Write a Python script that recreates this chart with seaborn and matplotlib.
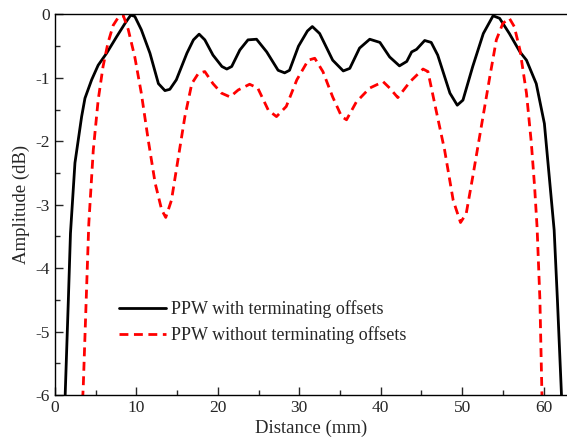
import numpy as np
import pandas as pd
import matplotlib
matplotlib.use("Agg")
import matplotlib.pyplot as plt
import seaborn as sns
from matplotlib.ticker import MultipleLocator

black_x = [0.9, 1.25, 1.64, 1.9, 2.45, 3.27, 3.68, 4.5, 5.3, 6.34, 7.57, 8.6, 9.3, 9.8, 10.6, 11.66,
           12.7, 13.5, 14.1, 14.9, 16.2, 17.0, 17.7, 18.4, 19.4, 20.5, 21.1, 21.7, 22.7, 23.7, 24.75,
           26.0, 27.4, 28.2, 28.8, 29.9, 31.0, 31.6, 32.5, 34.1, 35.4, 36.2, 37.4, 38.65, 39.9, 41.1,
           42.3, 43.2, 43.8, 44.4, 45.4, 46.2, 47.0, 48.5, 49.4, 50.1, 51.3, 52.6, 53.8, 54.6, 55.8,
           57.1, 57.9, 59.1, 60.1, 60.7, 61.3, 61.7, 62.2, 62.3]
black_y = [-6.3, -6.0, -4.5, -3.45, -2.34, -1.61, -1.32, -1.03, -0.80, -0.61, -0.35, -0.14, -0.01, -0.03,
           -0.24, -0.61, -1.09, -1.20, -1.18, -1.03, -0.61, -0.40, -0.31, -0.40, -0.64, -0.82, -0.86,
           -0.82, -0.56, -0.40, -0.39, -0.59, -0.88, -0.92, -0.88, -0.50, -0.26, -0.19, -0.30, -0.72,
           -0.89, -0.85, -0.53, -0.39, -0.44, -0.67, -0.81, -0.74, -0.59, -0.55, -0.41, -0.44, -0.64,
           -1.24, -1.43, -1.35, -0.82, -0.30, -0.02, -0.06, -0.30, -0.59, -0.72, -1.09, -1.72, -2.56,
           -3.40, -4.5, -6.0, -6.3]

red_x = [3.3, 3.47, 3.9, 4.15, 4.7, 5.3, 5.9, 6.5, 7.15, 7.8, 8.4, 9.0, 9.8, 10.6, 11.45, 12.3, 13.1,
         13.6, 14.3, 15.1, 15.95, 16.8, 17.6, 18.4, 19.4, 20.45, 21.5, 22.5, 23.9, 24.9, 26.2, 27.2,
         28.4, 29.7, 31.1, 31.9, 32.9, 34.1, 35.2, 35.8, 37.0, 38.65, 40.3, 41.1, 42.1, 43.6, 45.2,
         45.8, 46.8, 47.85, 48.9, 49.8, 50.5, 51.3, 52.35, 53.4, 54.2, 55.0, 55.8, 56.4, 57.1, 57.9,
         58.5, 58.9, 59.2, 59.55, 59.8, 59.9]
red_y = [-6.3, -5.87, -4.24, -3.3, -2.14, -1.35, -0.82, -0.45, -0.17, -0.04, -0.02, -0.24, -0.67,
         -1.24, -1.98, -2.66, -3.08, -3.20, -2.93, -2.29, -1.61, -1.09, -0.93, -0.90, -1.09, -1.24,
         -1.30, -1.19, -1.10, -1.16, -1.51, -1.61, -1.45, -1.03, -0.72, -0.69, -0.90, -1.30, -1.61,
         -1.66, -1.38, -1.16, -1.06, -1.16, -1.31, -1.06, -0.86, -0.90, -1.51, -2.14, -2.93, -3.28,
         -3.14, -2.56, -1.77, -0.98, -0.40, -0.14, -0.06, -0.19, -0.56, -1.24, -2.03, -2.72, -3.35,
         -4.5, -6.0, -6.3]

label_black = "PPW with terminating offsets"
label_red = "PPW without terminating offsets"

sns.set_style("ticks")
plt.rcParams["font.family"] = ["Liberation Serif", "DejaVu Serif"]

fig = plt.figure(figsize=(5.67, 4.44), dpi=100)
ax = fig.add_axes([55 / 567, 1 - 395 / 444, 513 / 567, (395 - 14.5) / 444])

df_b = pd.DataFrame({"x": black_x, "y": black_y})
df_r = pd.DataFrame({"x": red_x, "y": red_y})
sns.lineplot(data=df_b, x="x", y="y", ax=ax, color="black", lw=2.0, sort=False,
             label=label_black, estimator=None)
sns.lineplot(data=df_r, x="x", y="y", ax=ax, color="#ff0000", lw=2.0, sort=False,
             label=label_red, estimator=None)
ax.lines[1].set_linestyle((0, (3.2, 2.0)))

ax.set_xlim(0, 63)
ax.set_ylim(-6, 0)
ax.xaxis.set_major_locator(MultipleLocator(10))
ax.xaxis.set_minor_locator(MultipleLocator(5))
ax.yaxis.set_major_locator(MultipleLocator(1))
ax.yaxis.set_minor_locator(MultipleLocator(0.5))
ax.tick_params(which="both", direction="in", top=False, right=False, labelsize=12.5, width=1.0)
ax.tick_params(which="major", length=6)
ax.tick_params(which="minor", length=3.5)
ax.set_yticks(np.arange(-6, 0.1, 1))
ax.set_yticklabels([str(int(v)) for v in np.arange(-6, 0.1, 1)])
for s in ["left", "bottom", "top"]:
    ax.spines[s].set_linewidth(1.0)
    ax.spines[s].set_color("black")
ax.spines["right"].set_visible(False)

ax.set_xlabel("Distance (mm)", fontsize=13.5, labelpad=3)
ax.set_ylabel("Amplitude (dB)", fontsize=13.5, labelpad=4)

leg = ax.legend(loc="lower left", bbox_to_anchor=(0.11, 0.115), frameon=False, fontsize=13,
                handlelength=2.6, handletextpad=0.3, labelspacing=0.45, borderaxespad=0)

fig.savefig("out.png", dpi=100)
